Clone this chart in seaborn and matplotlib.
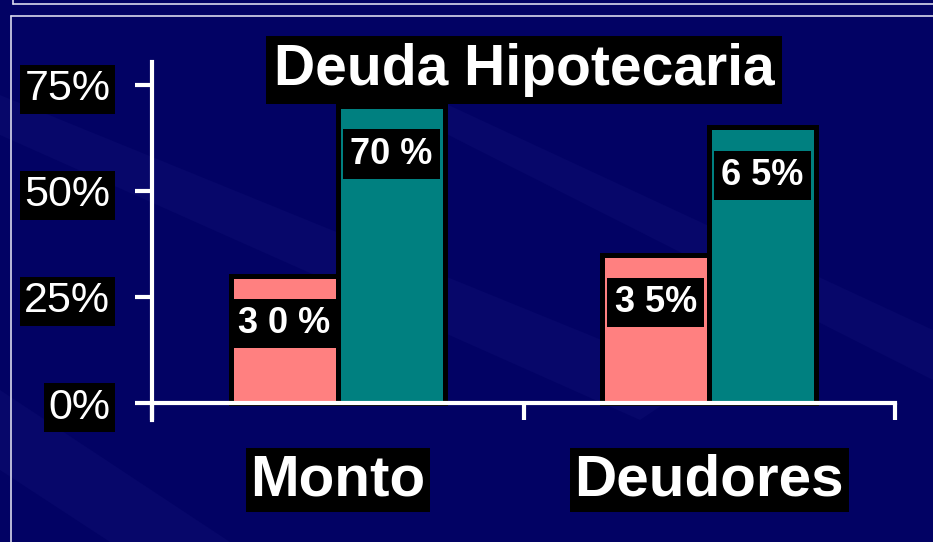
import matplotlib
matplotlib.use("Agg")
import matplotlib.pyplot as plt
from matplotlib.patches import Polygon
import seaborn as sns
import pandas as pd

# ---- data ----
categories = ["Monto", "Deudores"]
series = ["A", "B"]
values_a = [30, 35]
values_b = [70, 65]
labels_a = ["3 0 %", "3 5%"]
labels_b = ["70 %", "6 5%"]
yticks = [0, 25, 50, 75]
ytick_labels = ["0%", "25%", "50%", "75%"]
title = "Deuda Hipotecaria"

df = pd.DataFrame({
    "cat": categories * 2,
    "serie": [series[0]] * 2 + [series[1]] * 2,
    "val": values_a + values_b,
    "lab": labels_a + labels_b,
})

sns.set_theme(style="white")
plt.rcParams["font.family"] = ["Liberation Sans", "DejaVu Sans"]

BG = "#020264"
W, H = 933, 542
fig = plt.figure(figsize=(W / 100, H / 100), dpi=100, facecolor=BG)

def fx(x): return x / W
def fy(y): return 1 - y / H

# background layer with faint diagonal streaks
bg = fig.add_axes([0, 0, 1, 1], zorder=-10)
bg.set_xlim(0, W)
bg.set_ylim(H, 0)
bg.axis("off")
bg.set_facecolor(BG)
streaks = [
    [(0, 95), (0, 135), (640, 420), (700, 380)],
    [(0, 390), (0, 470), (110, 542), (230, 542)],
    [(300, 60), (330, 50), (933, 330), (933, 380)],
]
for pts in streaks:
    bg.add_patch(Polygon(pts, closed=True, facecolor="#07076a", edgecolor="none"))

# frame lines
lc = "#d8d8ec"
bg.plot([13, W], [4, 4], color=lc, lw=1.2)
bg.plot([13, 13], [0, 4], color=lc, lw=1.2)
bg.plot([11, W], [16, 16], color=lc, lw=1.2)
bg.plot([11, 11], [16, H], color=lc, lw=1.2)

# axes: x from 152 to 895 px, y 0 at 403px, top 62px, bottom 420px
ax = fig.add_axes([fx(152), fy(420), (895 - 152) / W, (420 - 62) / H])
ax.set_facecolor("none")

sns.barplot(data=df, x="cat", y="val", hue="serie", order=categories, hue_order=series,
            palette=["#FF8080", "#008080"], width=0.575, edgecolor="black",
            linewidth=3.6, saturation=1, legend=False, ax=ax)

ax.set_xlim(-0.5, 1.5)
ax.set_ylim(-4.0, 80.4)
ax.set_xlabel("")
ax.set_ylabel("")

for s in ["top", "right"]:
    ax.spines[s].set_visible(False)
for s in ["left", "bottom"]:
    ax.spines[s].set_color("white")
    ax.spines[s].set_linewidth(3)
ax.spines["bottom"].set_position(("data", 0))

ax.set_yticks(yticks)
ax.set_yticklabels(ytick_labels)
ax.tick_params(axis="y", which="major", left=True, direction="out", length=12, width=3,
               color="white", labelcolor="white", labelsize=31, pad=18)
for t in ax.get_yticklabels():
    t.set_bbox(dict(boxstyle="square,pad=0.1", facecolor="black", edgecolor="none"))

ax.set_xticks(range(len(categories)))
ax.set_xticklabels(categories)
ax.set_xticks([-0.5, 0.5, 1.5], minor=True)
ax.tick_params(axis="x", which="major", bottom=True, length=0, labelcolor="white",
               labelsize=42, pad=36)
ax.tick_params(axis="x", which="minor", bottom=True, direction="out", length=12, width=3,
               color="white")
for t in ax.get_xticklabels():
    t.set_fontweight("bold")
    t.set_bbox(dict(boxstyle="square,pad=0.08", facecolor="black", edgecolor="none"))

# bar value labels
bars = [p for c in ax.containers for p in c]
labs = labels_a + labels_b
vals = values_a + values_b
for p, lab, v in zip(bars, labs, vals):
    cx = p.get_x() + p.get_width() / 2
    ax.text(cx, v - 11.3, lab, ha="center", va="center", color="white",
            fontsize=26, fontweight="bold", zorder=5,
            bbox=dict(boxstyle="square,pad=0.2", facecolor="black", edgecolor="none"))

# title
fig.text(fx(524), fy(70), title, ha="center", va="center", color="white",
         fontsize=41, fontweight="bold", zorder=10,
         bbox=dict(boxstyle="square,pad=0.13", facecolor="black", edgecolor="none"))

fig.savefig("out.png", dpi=100, facecolor=BG)
